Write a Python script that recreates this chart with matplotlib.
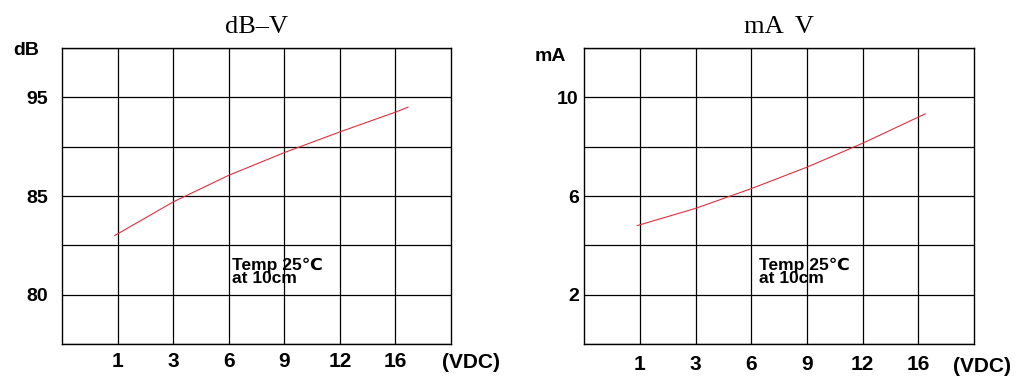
import numpy as np
import matplotlib
matplotlib.use("Agg")
import matplotlib.pyplot as plt

# voltage ticks (not evenly spaced in volts, but evenly spaced on the chart)
volt_ticks = [1, 3, 6, 9, 12, 16]
volt_labels = ["1", "3", "6", "9", "12", "16"]

# dB-V curve
db_volts = [0.9, 3, 6, 9, 12, 16, 16.9]
db_values = [83.0, 84.7, 87.1, 89.4, 91.5, 93.5, 94.0]
db_ticks = [80, 85, 95]

# mA-V curve
ma_volts = [0.9, 3, 6, 9, 12, 16, 16.5]
ma_values = [4.8, 5.5, 6.3, 7.17, 8.14, 9.2, 9.33]
ma_ticks = [2, 6, 10]

# chart grid: 7 columns / 6 rows, irregular value steps per cell
volt_grid = [-1, 1, 3, 6, 9, 12, 16, 20]
db_grid = [77.5, 80, 82.5, 85, 90, 95, 100]


def pos_scale(grid):
    pos = np.arange(len(grid), dtype=float)
    fwd = lambda v: np.interp(v, grid, pos, left=-1e9, right=1e9)
    inv = lambda p: np.interp(p, pos, grid)
    return fwd, inv


fig = plt.figure(figsize=(10.34, 3.86), dpi=100)
ax1 = fig.add_axes([0.0600, 0.1088, 0.3762, 0.7668])
ax2 = fig.add_axes([0.5651, 0.1088, 0.3769, 0.7668])

bold = dict(family=["Liberation Sans", "DejaVu Sans"], weight="bold")

for ax, vdc_x, xpad in ((ax1, 0.977, 5.5), (ax2, 0.946, 8)):
    ax.set_xscale("function", functions=pos_scale(volt_grid))
    ax.set_xlim(volt_grid[0], volt_grid[-1])
    ax.set_xticks(volt_ticks)
    ax.set_xticklabels(volt_labels, fontsize=15, **bold)
    ax.tick_params(axis="x", length=0, pad=xpad)
    ax.grid(True, color="black", linewidth=0.9)
    ax.set_axisbelow(True)
    for sp in ax.spines.values():
        sp.set_linewidth(1.0)
    ax.annotate("(VDC)", xy=(vdc_x, 0), xycoords="axes fraction",
                xytext=(0, -xpad - 1), textcoords="offset points",
                fontsize=15, ha="left", va="top", **bold)

# left: dB
ax1.set_yscale("function", functions=pos_scale(db_grid))
ax1.set_ylim(db_grid[0], db_grid[-1])
ax1.set_yticks(db_grid)
ax1.set_yticklabels([str(v) if v in db_ticks else "" for v in db_grid],
                    fontsize=14, **bold)
ax1.tick_params(axis="y", length=0, pad=10)
ax1.plot(db_volts, db_values, color="#e03040", linewidth=0.8)
ax1.set_title("dB\u2013V", family="Liberation Serif", fontsize=19, pad=11)
ax1.text(-0.126, 0.993, "dB", transform=ax1.transAxes, fontsize=14,
         ha="left", va="center", **bold)
ax1.text(6.2, 80.45, "Temp 25\u2103\nat 10cm", fontsize=12.5, linespacing=0.8,
         ha="left", va="bottom", **bold)

# right: mA
ax2.set_ylim(0, 12)
ax2.set_yticks(np.arange(0, 13, 2))
ax2.set_yticklabels([str(v) if v in ma_ticks else "" for v in range(0, 13, 2)],
                    fontsize=14, **bold)
ax2.tick_params(axis="y", length=0, pad=4)
ax2.plot(ma_volts, ma_values, color="#e03040", linewidth=0.8)
ax2.set_title("mA  V", family="Liberation Serif", fontsize=19, pad=11)
ax2.text(-0.1265, 0.97, "mA", transform=ax2.transAxes, fontsize=14,
         ha="left", va="center", **bold)
ax2.text(6.4, 2.35, "Temp 25\u2103\nat 10cm", fontsize=12.5, linespacing=0.8,
         ha="left", va="bottom", **bold)

fig.savefig("out.png", dpi=100)
